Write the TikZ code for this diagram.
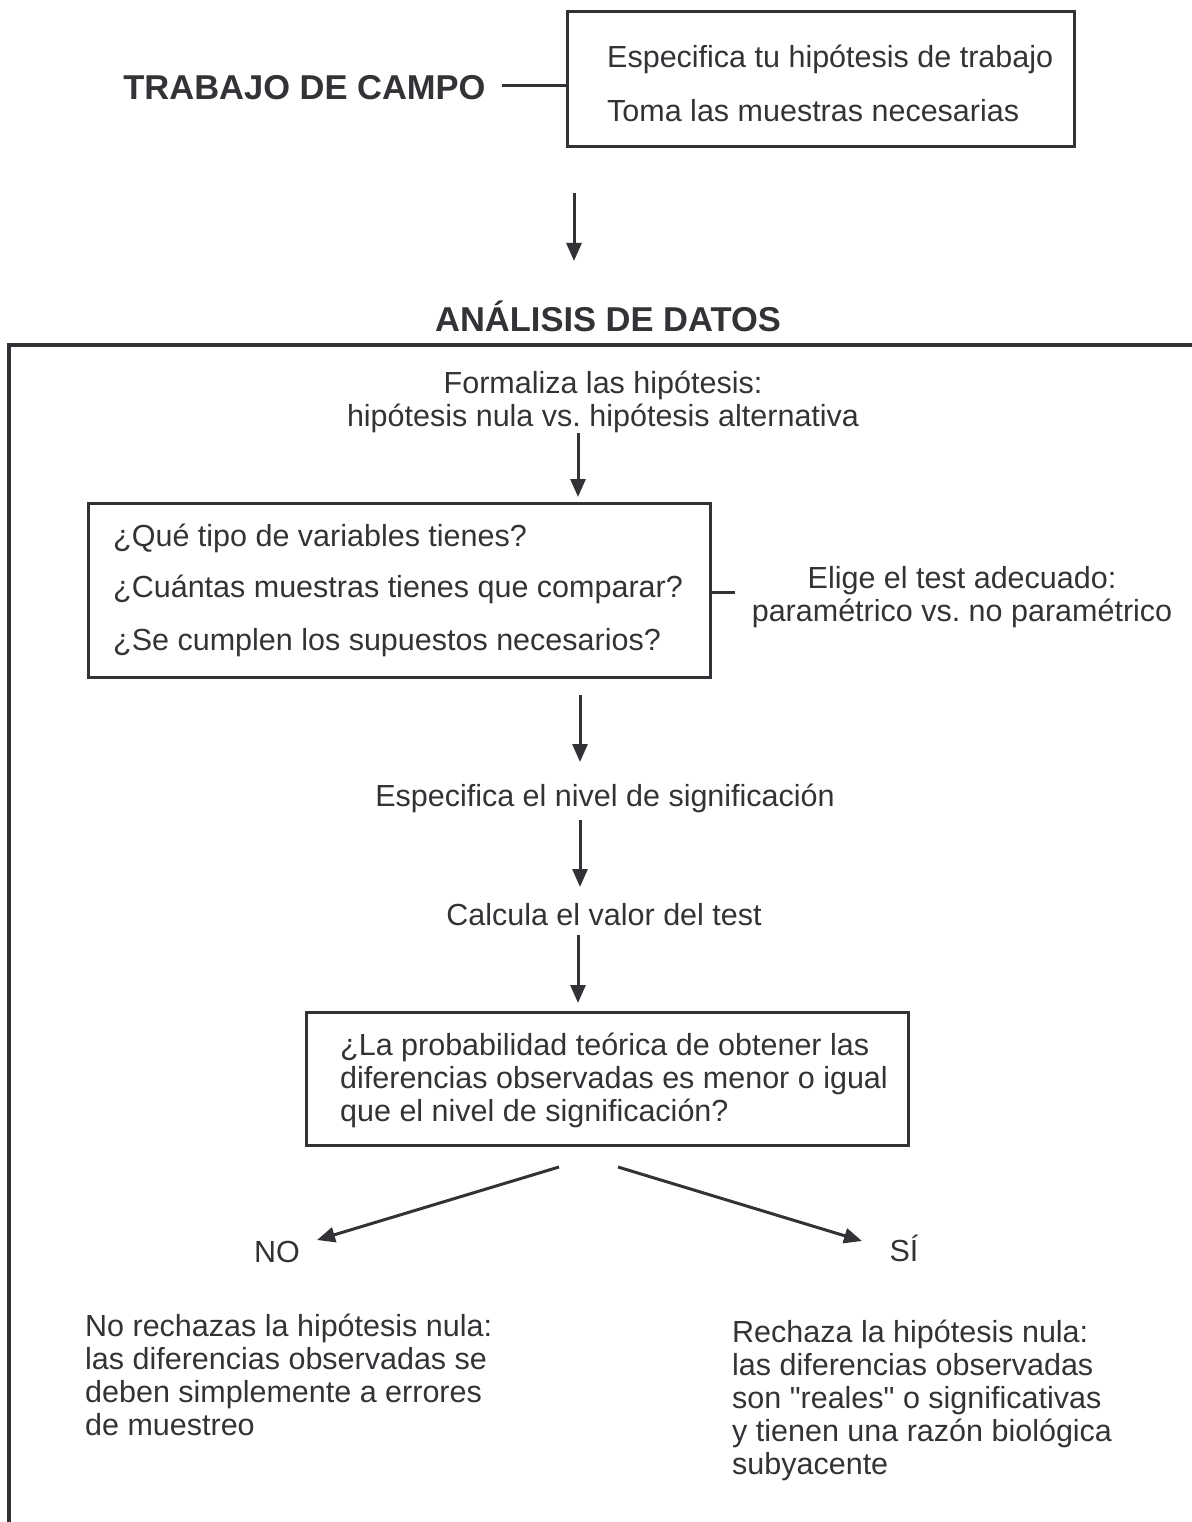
\documentclass[tikz,border=0pt]{standalone}
\usepackage{fontspec}
\setmainfont{Liberation Sans}
\usetikzlibrary{arrows.meta}
\definecolor{ink}{RGB}{51,51,55}
\tikzset{
  txt/.style={inner sep=0pt, text=ink, font=\fontsize{30.5}{33}\selectfont\frenchspacing},
  ttl/.style={inner sep=0pt, text=ink, font=\fontsize{34.5}{38}\selectfont\bfseries},
  boxn/.style={draw=ink, line width=3pt, inner sep=0pt},
  con/.style={draw=ink, line width=3pt},
  arr/.style={con, -{Triangle[width=15pt,length=18pt]}},
}
\begin{document}
\begin{tikzpicture}[x=1pt,y=-1pt]
\useasboundingbox (0,0) rectangle (1191,1522);
% header
\node[ttl] (campo) at (304.5,88) {TRABAJO DE CAMPO};
\node[boxn, minimum width=507pt, minimum height=135pt] (b1) at (820.5,79.5) {};
\node[txt, anchor=west] (b1a) at (607,59) {Especifica tu hipótesis de trabajo};
\node[txt, anchor=west] (b1b) at (607,111) {Toma las muestras necesarias};
\coordinate (c1) at (502,86);
\draw[con] (c1) -- (c1 -| b1.west);
\coordinate (a1s) at (574,193);
\coordinate (a1e) at (574,261);
\draw[arr] (a1s) -- (a1e);
\node[ttl] (analisis) at (608,316) {ANÁLISIS DE DATOS};
% frame
\coordinate (fr1) at (1195,345);
\coordinate (fr2) at (9,345);
\coordinate (fr3) at (9,1530);
\draw[draw=ink, line width=3.5pt] (fr1) -- (fr2) -- (fr3);
% formaliza
\node[txt, align=center] (form) at (603,402) {Formaliza las hipótesis:\\hipótesis nula vs. hipótesis alternativa};
\coordinate (a2s) at (578,433);
\coordinate (a2e) at (578,497);
\draw[arr] (a2s) -- (a2e);
% box 2
\node[boxn, minimum width=622pt, minimum height=174pt] (b2) at (399,590) {};
\node[txt, anchor=west] (b2a) at (113,538) {¿Qué tipo de variables tienes?};
\node[txt, anchor=west] (b2b) at (113,589) {¿Cuántas muestras tienes que comparar?};
\node[txt, anchor=west] (b2c) at (113,643) {¿Se cumplen los supuestos necesarios?};
\node[txt, align=center] (elige) at (962,597) {Elige el test adecuado:\\paramétrico vs. no paramétrico};
\coordinate (c2) at (735,592);
\draw[con] (c2 -| b2.east) -- (c2);
\coordinate (a3s) at (580,695);
\coordinate (a3e) at (580,762);
\draw[arr] (a3s) -- (a3e);
\node[txt] (nivel) at (605,798) {Especifica el nivel de significación};
\coordinate (a4s) at (580,820);
\coordinate (a4e) at (580,887);
\draw[arr] (a4s) -- (a4e);
\node[txt] (calc) at (604,915) {Calcula el valor del test};
\coordinate (a5s) at (578,935);
\coordinate (a5e) at (578,1003);
\draw[arr] (a5s) -- (a5e);
% box 3
\node[boxn, minimum width=602pt, minimum height=133pt] (b3) at (607,1078.5) {};
\node[txt, anchor=west, align=left] (b3t) at (340,1080) {¿La probabilidad teórica de obtener las\\diferencias observadas es menor o igual\\que el nivel de significación?};
% branches
\coordinate (l1) at (559,1167);
\coordinate (l2) at (317,1240);
\draw[arr] (l1) -- (l2);
\coordinate (r1) at (618,1167);
\coordinate (r2) at (862,1241);
\draw[arr] (r1) -- (r2);
\node[txt] (no) at (277,1252) {NO};
\node[txt] (si) at (904,1248) {SÍ};
\node[txt, anchor=north west, align=left] (left) at (85,1314) {No rechazas la hipótesis nula:\\las diferencias observadas se\\deben simplemente a errores\\de muestreo};
\node[txt, anchor=north west, align=left] (right) at (732,1320) {Rechaza la hipótesis nula:\\las diferencias observadas\\son \textquotedbl reales\textquotedbl{} o significativas\\y tienen una razón biológica\\subyacente};
\end{tikzpicture}
\end{document}
